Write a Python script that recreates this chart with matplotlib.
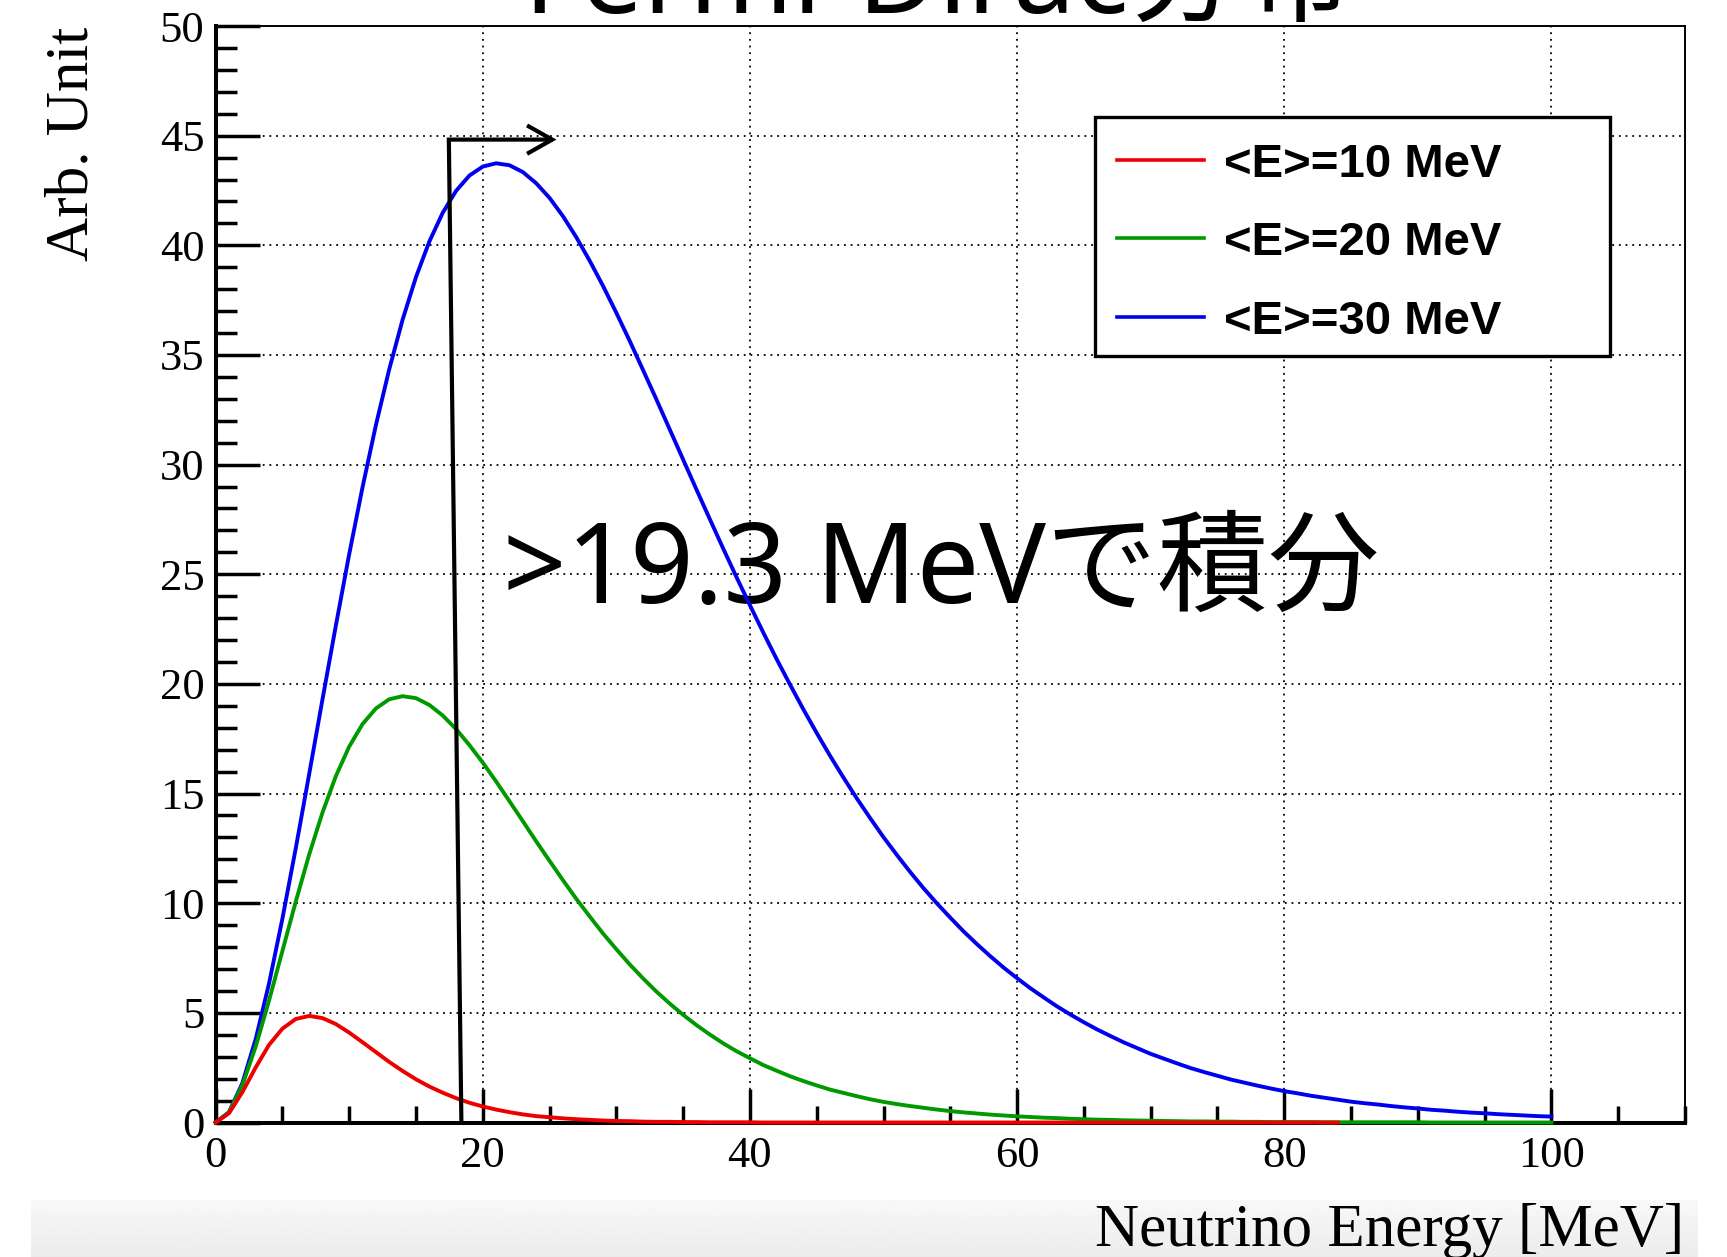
import numpy as np
import matplotlib
matplotlib.use("Agg")
import matplotlib.pyplot as plt
from matplotlib.ticker import MultipleLocator
from matplotlib.patches import Rectangle
from matplotlib.lines import Line2D

# ---------------------------------------------------------------- data
# Neutrino energy grid [MeV] (1 MeV spacing)
energy = list(range(0, 101))
energy_red = list(range(0, 85))

# Fermi-Dirac spectra, arbitrary units
spec_10 = [
    0.00, 0.42, 1.38, 2.51, 3.54, 4.28, 4.72, 4.86, 4.76, 4.49,
    4.10, 3.66, 3.21, 2.76, 2.35, 1.97, 1.64, 1.36, 1.11, 0.90,
    0.73, 0.59, 0.47, 0.37, 0.29, 0.24, 0.19, 0.15, 0.12, 0.09,
    0.07, 0.06, 0.04, 0.03, 0.03, 0.02, 0.02, 0.01, 0.01, 0.01,
    0.01, 0.00, 0.00, 0.00, 0.00, 0.00, 0.00, 0.00, 0.00, 0.00,
    0.00, 0.00, 0.00, 0.00, 0.00, 0.00, 0.00, 0.00, 0.00, 0.00,
    0.00, 0.00, 0.00, 0.00, 0.00, 0.00, 0.00, 0.00, 0.00, 0.00,
    0.00, 0.00, 0.00, 0.00, 0.00, 0.00, 0.00, 0.00, 0.00, 0.00,
    0.00, 0.00, 0.00, 0.00, 0.00,
]
spec_20 = [
    0.00, 0.46, 1.69, 3.46, 5.56, 7.82, 10.07, 12.21, 14.13, 15.79,
    17.14, 18.17, 18.88, 19.30, 19.44, 19.35, 19.04, 18.56, 17.94, 17.21,
    16.41, 15.55, 14.65, 13.74, 12.82, 11.93, 11.05, 10.20, 9.40, 8.62,
    7.90, 7.21, 6.57, 5.97, 5.42, 4.91, 4.44, 4.01, 3.61, 3.25,
    2.93, 2.62, 2.36, 2.11, 1.89, 1.69, 1.50, 1.35, 1.20, 1.06,
    0.94, 0.84, 0.75, 0.67, 0.59, 0.52, 0.46, 0.41, 0.36, 0.32,
    0.28, 0.25, 0.22, 0.20, 0.17, 0.15, 0.13, 0.12, 0.10, 0.09,
    0.08, 0.07, 0.06, 0.05, 0.05, 0.04, 0.04, 0.03, 0.03, 0.02,
    0.02, 0.02, 0.02, 0.01, 0.01, 0.01, 0.01, 0.01, 0.01, 0.01,
    0.01, 0.00, 0.00, 0.00, 0.00, 0.00, 0.00, 0.00, 0.00, 0.00,
    0.00,
]
spec_30 = [
    0.00, 0.47, 1.79, 3.80, 6.34, 9.29, 12.50, 15.87, 19.29, 22.65,
    25.91, 28.97, 31.80, 34.35, 36.61, 38.55, 40.17, 41.48, 42.48, 43.18,
    43.59, 43.74, 43.65, 43.34, 42.83, 42.16, 41.33, 40.37, 39.30, 38.15,
    36.92, 35.64, 34.31, 32.97, 31.60, 30.23, 28.86, 27.51, 26.17, 24.86,
    23.59, 22.34, 21.13, 19.97, 18.84, 17.76, 16.72, 15.73, 14.78, 13.88,
    13.01, 12.20, 11.42, 10.68, 9.99, 9.34, 8.71, 8.13, 7.58, 7.06,
    6.58, 6.12, 5.70, 5.29, 4.92, 4.57, 4.24, 3.94, 3.65, 3.39,
    3.13, 2.91, 2.69, 2.48, 2.30, 2.13, 1.96, 1.82, 1.68, 1.55,
    1.43, 1.33, 1.22, 1.13, 1.04, 0.95, 0.88, 0.82, 0.75, 0.69,
    0.64, 0.58, 0.54, 0.49, 0.45, 0.42, 0.38, 0.35, 0.32, 0.29,
    0.27,
]
labels = ["<E>=10 MeV", "<E>=20 MeV", "<E>=30 MeV"]
colors = ["#ee0000", "#009a00", "#0000ee"]

title = "Fermi-Dirac分布"
note = ">19.3 MeVで積分"
# integration threshold marker: (x, y) path in data units
marker_x = [18.4, 17.46, 25.2]
marker_y = [0.0, 44.82, 44.82]

# ---------------------------------------------------------------- figure
W, H = 1727, 1257
fig = plt.figure(figsize=(W / 100, H / 100), dpi=100)

def fx(px):
    return px / W

def fy(py):
    return 1 - py / H

serif = ["Liberation Serif", "DejaVu Serif"]
jp = ["Noto Sans", "Noto Sans CJK JP", "DejaVu Sans"]

# light gray strip along the bottom edge
band = fig.add_axes([fx(31), 0, fx(1698) - fx(31), fy(1200)])
grad = np.linspace(0.975, 0.925, 64).reshape(-1, 1)
band.imshow(grad, aspect="auto", cmap="gray", vmin=0, vmax=1,
            extent=[0, 1, 0, 1])
band.set_axis_off()

ax = fig.add_axes([fx(215.6), fy(1122.5), fx(1685) - fx(215.6),
                   fy(26) - fy(1122.5)])
ax.set_xlim(0, 110)
ax.set_ylim(0, 50)

for side in ("left", "bottom"):
    ax.spines[side].set_linewidth(2.9)
for side in ("top", "right"):
    ax.spines[side].set_linewidth(1.4)

ax.xaxis.set_major_locator(MultipleLocator(20))
ax.xaxis.set_minor_locator(MultipleLocator(5))
ax.yaxis.set_major_locator(MultipleLocator(5))
ax.yaxis.set_minor_locator(MultipleLocator(1))
ax.tick_params(axis="x", which="major", direction="in", length=24.5,
               width=2.5, pad=10, labelsize=32)
ax.tick_params(axis="x", which="minor", direction="in", length=12, width=2.5)
ax.tick_params(axis="y", which="major", direction="in", length=32,
               width=2.5, pad=8, labelsize=32)
ax.tick_params(axis="y", which="minor", direction="in", length=15, width=2.5)
ax.tick_params(top=False, right=False, which="both")
for lab in ax.get_xticklabels() + ax.get_yticklabels():
    lab.set_family(serif)

ax.grid(which="major", color="black", linewidth=1.3,
        linestyle=(0, (1, 2.7)))

# spectra
ax.plot(energy, spec_30, color=colors[2], lw=2.8, zorder=3, clip_on=False)
ax.plot(energy, spec_20, color=colors[1], lw=2.8, zorder=3, clip_on=False)
ax.plot(energy_red, spec_10, color=colors[0], lw=2.8, zorder=3, clip_on=False)

# threshold marker with open arrow head
ax.plot(marker_x, marker_y, color="black", lw=3, zorder=4,
        solid_joinstyle="miter", solid_capstyle="butt")
ax.plot([marker_x[2] - 1.75, marker_x[2], marker_x[2] - 1.75],
        [marker_y[2] + 0.6, marker_y[2], marker_y[2] - 0.6],
        color="black", lw=3, zorder=4, solid_joinstyle="miter")

ax.text(21.5, 23.71, note, family=jp, fontsize=80, ha="left",
        va="baseline", zorder=2.6)

# legend box
fig.add_artist(Rectangle((fx(1095), fy(356)), fx(1610) - fx(1095),
                         fy(117) - fy(356), transform=fig.transFigure,
                         facecolor="white", edgecolor="black", lw=2.4,
                         zorder=5))
for row, (lab, col) in enumerate(zip(labels, colors)):
    yc = 159.7 + 78.7 * row
    fig.add_artist(Line2D([fx(1117), fx(1204)], [fy(yc), fy(yc)],
                          transform=fig.transFigure, color=col, lw=2.6,
                          zorder=6))
    fig.text(fx(1224), fy(yc + 17), lab, family=["Liberation Sans"],
             weight="bold", fontsize=34, ha="left", va="baseline", zorder=6)

# axis titles
fig.text(fx(1684), fy(1246), "Neutrino Energy [MeV]", family=serif,
         fontsize=44, ha="right", va="baseline")
fig.text(fx(73), fy(27), "Arb. Unit", family=serif, fontsize=44,
         rotation=90, ha="center", va="top")

# title (runs off the top edge)
fig.text(fx(937), fy(13), title, family=jp, fontsize=80, ha="center",
         va="baseline")

fig.savefig("out.png", dpi=100)
